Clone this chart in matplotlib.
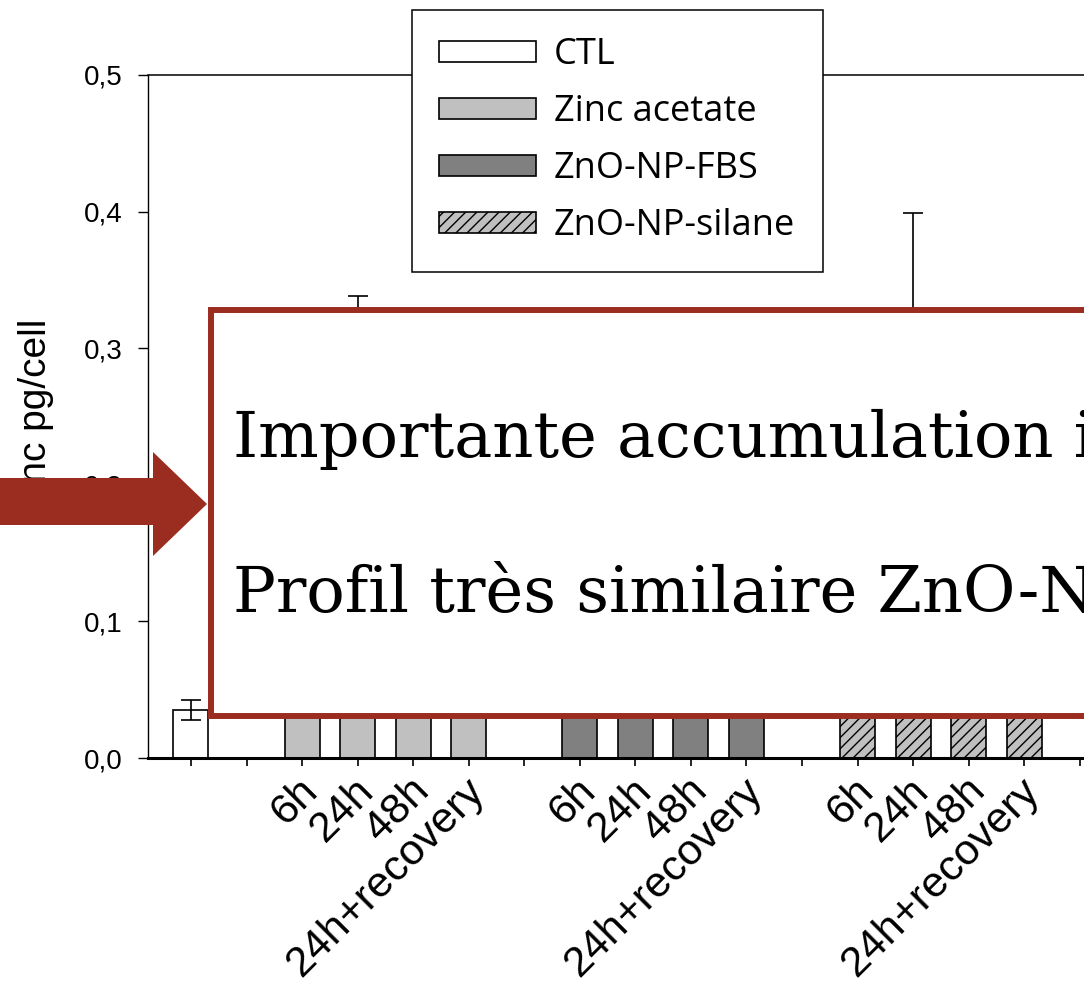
import matplotlib
matplotlib.use('Agg')
import matplotlib.pyplot as plt
import numpy as np
from matplotlib.patches import Rectangle, Polygon
from matplotlib.transforms import ScaledTranslation

plt.rcParams['font.family'] = ['Liberation Sans', 'DejaVu Sans']
plt.rcParams['hatch.linewidth'] = 1.0

# ---------------- data ----------------
series_names = ['CTL', 'Zinc acetate', 'ZnO-NP-FBS', 'ZnO-NP-silane']
time_points = ['6h', '24h', '48h', '24h+recovery']

ctl_value = [0.035]
ctl_err = [0.0075]
zinc_acetate = [0.16, 0.27, 0.22, 0.12]
zinc_acetate_err = [0.03, 0.068, 0.04, 0.02]
zno_fbs = [0.14, 0.21, 0.24, 0.12]
zno_fbs_err = [0.03, 0.05, 0.04, 0.02]
zno_silane = [0.15, 0.30, 0.25, 0.13]
zno_silane_err = [0.03, 0.099, 0.05, 0.02]

y_ticks = [0.0, 0.1, 0.2, 0.3, 0.4, 0.5]
y_tick_labels = ['0,0', '0,1', '0,2', '0,3', '0,4', '0,5']
y_label = 'Zinc pg/cell'
box_line1 = 'Importante accumulation intracellulaire'
box_line2 = 'Profil très similaire ZnO-NP-FBS et ZnO-NP-silane'

# ---------------- layout ----------------
W, H = 1084, 985
fig = plt.figure(figsize=(W / 100, H / 100), dpi=100)

def fx(px):
    return px / W

def fy(py):
    return 1 - py / H

unit = 55.55
xmin, xmax = -0.774, 16.5
ax_right_px = 191 + xmax * unit
ax = fig.add_axes([fx(148), fy(758), (ax_right_px - 148) / W, (758 - 75) / H])

# positions: CTL at 0, groups at 2-5, 7-10, 12-15
ctl_pos = np.array([0])
g_pos = [np.arange(4) + s for s in (2, 7, 12)]

bw = 0.63
ekw = dict(elinewidth=1.2, capthick=1.2, ecolor='black')
b0 = ax.bar(ctl_pos, ctl_value, width=bw, color='white', edgecolor='black', lw=1.2,
            yerr=ctl_err, capsize=7, error_kw=ekw, label=series_names[0])
b1 = ax.bar(g_pos[0], zinc_acetate, width=bw, color='#c0c0c0', edgecolor='black', lw=1.2,
            yerr=zinc_acetate_err, capsize=7, error_kw=ekw, label=series_names[1])
b2 = ax.bar(g_pos[1], zno_fbs, width=bw, color='#808080', edgecolor='black', lw=1.2,
            yerr=zno_fbs_err, capsize=7, error_kw=ekw, label=series_names[2])
b3 = ax.bar(g_pos[2], zno_silane, width=bw, color='#c0c0c0', edgecolor='black', lw=1.2,
            hatch='///', yerr=zno_silane_err, capsize=7, error_kw=ekw, label=series_names[3])

ax.set_xlim(xmin, xmax)
ax.set_ylim(0, 0.5)

# x ticks
tick_pos = np.arange(17)
tick_labels = [''] * 17
for g in g_pos:
    for p, t in zip(g, time_points):
        tick_labels[p] = t
ax.set_xticks(tick_pos)
ax.set_xticklabels(tick_labels, rotation=45, ha='right', va='top', fontsize=31)
ax.tick_params(axis='x', direction='out', length=6, width=1.2, pad=3)
off = ScaledTranslation(24 / 100, 0, fig.dpi_scale_trans)
for lab in ax.get_xticklabels():
    lab.set_transform(lab.get_transform() + off)

# y ticks
ax.set_yticks(y_ticks)
ax.set_yticklabels(y_tick_labels, fontsize=20)
ax.tick_params(axis='y', direction='out', length=7.2, width=1.0, pad=11)

ax.spines['right'].set_visible(False)
ax.spines['left'].set_linewidth(1.0)
ax.spines['top'].set_linewidth(1.1)
ax.spines['bottom'].set_linewidth(2.2)

ax.set_ylabel(y_label, fontsize=28, va='center')
ax.yaxis.set_label_coords(-(148 - 36) / (ax_right_px - 148), 0.5)

# legend
leg = ax.legend(handles=[b0, b1, b2, b3], labels=series_names,
                loc='upper left', bbox_to_anchor=(fx(412), fy(10)),
                bbox_transform=fig.transFigure,
                prop={'family': ['Open Sans', 'DejaVu Sans'], 'size': 26},
                frameon=True, fancybox=False, edgecolor='black', framealpha=1,
                borderpad=0.76, borderaxespad=0, handlelength=2.67, handleheight=0.53,
                handletextpad=0.5, labelspacing=0.58)
leg.get_frame().set_linewidth(1.1)
leg.set_zorder(5)

# overlay box and arrow
red = '#9B2D20'
rect = Rectangle((fx(211), fy(716)), (1110 - 211) / W, (716 - 310) / H,
                 transform=fig.transFigure, facecolor='white', edgecolor=red,
                 linewidth=4.3, zorder=10)
fig.add_artist(rect)

arrow_px = [(-10, 478), (153, 478), (153, 452), (207, 504), (153, 556), (153, 525), (-10, 525)]
arrow = Polygon([(fx(x), fy(y)) for x, y in arrow_px], closed=True,
                transform=fig.transFigure, facecolor=red, edgecolor='none', zorder=10)
fig.add_artist(arrow)

fig.text(fx(233), fy(457), box_line1, family=['DejaVu Serif'], fontsize=46,
         va='baseline', ha='left', zorder=11)
fig.text(fx(233), fy(612), box_line2, family=['DejaVu Serif'], fontsize=46,
         va='baseline', ha='left', zorder=11)

fig.savefig('out.png', dpi=100)
